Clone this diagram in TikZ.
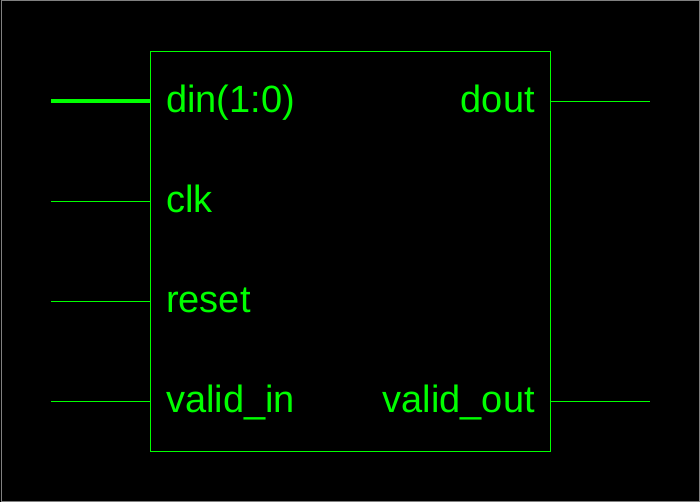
\documentclass[tikz,border=0pt]{standalone}
\usepackage{fontspec}
\setmainfont{Liberation Sans}
\definecolor{sig}{HTML}{00FF00}
\definecolor{frame}{HTML}{808080}
\begin{document}
\begin{tikzpicture}[x=1pt,y=-1pt,
  wire/.style={draw=sig, line width=1pt},
  bus/.style={draw=sig, line width=4pt},
  lbl/.style={text=sig, inner sep=0pt, font=\fontsize{38}{40}\selectfont},
  lpin/.style={lbl, anchor=base west},
  rpin/.style={lbl, anchor=base east}]
\useasboundingbox (0,0) rectangle (700,502);
\fill[black] (0,0) rectangle (700,502);
\draw[frame, line width=1pt] (1,1) rectangle (699,501);
\node[draw=sig, line width=1pt, minimum width=400pt, minimum height=400pt, inner sep=0pt] (blk) at (350.5,251.5) {};
% pin ends
\coordinate (pdin) at (51,101);
\coordinate (pclk) at (51,201.5);
\coordinate (prst) at (51,301.5);
\coordinate (pvin) at (51,401.5);
\coordinate (pdout) at (650,101.5);
\coordinate (pvout) at (650,401.5);
% connectors
\draw[bus] (pdin) -- (blk.west |- pdin);
\draw[wire] (pclk) -- (blk.west |- pclk);
\draw[wire] (prst) -- (blk.west |- prst);
\draw[wire] (pvin) -- (blk.west |- pvin);
\draw[wire] (blk.east |- pdout) -- (pdout);
\draw[wire] (blk.east |- pvout) -- (pvout);
% labels
\node[lpin] (ldin) at (166,112.5) {din(1:0)};
\node[lpin] (lclk) at (166,212.5) {clk};
\node[lpin] (lrst) at (166,312.5) {reset};
\node[lpin] (lvin) at (166,412.5) {valid\_in};
\node[rpin] (ldout) at (535,112.5) {dout};
\node[rpin] (lvout) at (535,412.5) {valid\_out};
\end{tikzpicture}
\end{document}
